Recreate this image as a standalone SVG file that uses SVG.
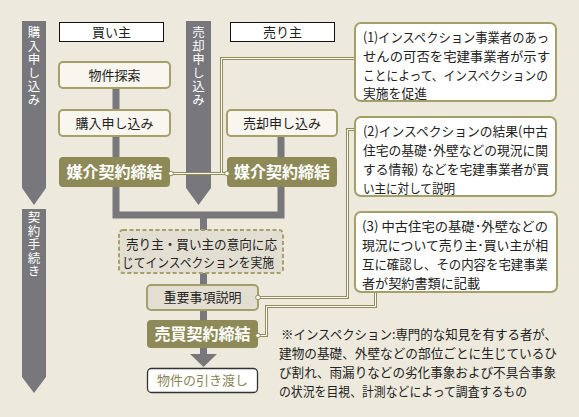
<svg xmlns="http://www.w3.org/2000/svg" width="579" height="417" viewBox="0 0 579 417">
<style>
.t{font-family:"Noto Sans CJK JP","Noto Sans CJK SC",sans-serif;font-size:13px;fill:#222}
.c{text-anchor:middle}
.w{fill:#fff;font-size:16px;font-weight:bold}
.v{fill:#fff;font-size:12.5px;writing-mode:vertical-rl;letter-spacing:1px}
.ol{fill:#8a8556}
.lbox{fill:#f8f6ee;stroke:#a5a06a;stroke-width:2}
.obox{fill:#8e8a58}
.gbox{fill:#e2dfd2;stroke:#a5a06a;stroke-width:2}
.note{fill:#fff;stroke:#a5a06a;stroke-width:2}
.hdr{fill:#fff;stroke:#111;stroke-width:1}
.bar{fill:none;stroke:#78777c;stroke-width:7;stroke-linejoin:miter}
.arr{fill:#78777c}
.co{fill:none;stroke:#928d5b;stroke-width:3}
.ci{fill:none;stroke:#fbfaf4;stroke-width:1}
.dot{fill:#fff;stroke:#8e8a58;stroke-width:1}
</style>
<rect width="579" height="417" fill="#edeadd"/>

<g id="stage-arrows">
<polygon class="arr" points="22,21 46,21 46,188 34,205 22,188"/>
<polygon class="arr" points="22,209 46,209 46,377 34,393 22,377"/>
<polygon class="arr" points="186,21 211,21 211,188 198.5,205 186,188"/>
<text class="t v" x="34" y="26">購入申し込み</text>
<text class="t v" x="198.5" y="26">売却申し込み</text>
<text class="t v" x="34" y="211">契約手続き</text>
</g>

<g id="flow-bars">
<path class="bar" d="M116 88V215H281V136"/>
<path class="bar" d="M203.5 215V354"/>
<polygon class="arr" points="190,354 217,354 203.5,367"/>
</g>

<g id="connectors">
<path class="co" d="M355 58.5H221.5V173.5M171 173.5H227"/>
<path class="ci" d="M355 58.5H221.5V173.5M171 173.5H227"/>
<path class="co" d="M355 129.5H347.5V297.5H258"/>
<path class="ci" d="M355 129.5H347.5V297.5H258"/>
<path class="co" d="M375.5 292V306.5H266.5V335.5H258"/>
<path class="ci" d="M375.5 292V306.5H266.5V335.5H258"/>
</g>

<g id="hdr-buyer"><rect class="hdr" x="59.5" y="22.5" width="104" height="19"/><text class="t c" x="111.5" y="36.5">買い主</text></g>
<g id="hdr-seller"><rect class="hdr" x="230.5" y="22.5" width="104" height="19"/><text class="t c" x="282.5" y="36.5">売り主</text></g>

<g id="search"><rect class="lbox" x="59" y="62" width="111" height="26" rx="4"/><text class="t c" x="114.5" y="79.5">物件探索</text></g>
<g id="buy-apply"><rect class="lbox" x="59" y="110" width="111" height="26" rx="4"/><text class="t c" x="114.5" y="127.5">購入申し込み</text></g>
<g id="sell-apply"><rect class="lbox" x="227" y="110" width="110" height="26" rx="4"/><text class="t c" x="282" y="127.5">売却申し込み</text></g>
<g id="buy-broker"><rect class="obox" x="59" y="157" width="111" height="30" rx="4"/><text class="t w c" x="114.5" y="178">媒介契約締結</text></g>
<g id="sell-broker"><rect class="obox" x="227" y="157" width="110" height="30" rx="4"/><text class="t w c" x="282" y="178">媒介契約締結</text></g>

<g id="inspection"><rect class="gbox" x="119" y="230" width="164" height="43" rx="4" stroke-dasharray="4 2.5"/>
<text class="t" x="126" y="249" textLength="151" lengthAdjust="spacingAndGlyphs">売り主・買い主の意向に応</text>
<text class="t" x="122" y="267" textLength="152" lengthAdjust="spacingAndGlyphs">じてインスペクションを実施</text></g>

<g id="explain"><rect class="gbox" x="147" y="285" width="111" height="25" rx="4"/><text class="t c" x="202.5" y="302">重要事項説明</text></g>
<g id="sale-contract"><rect class="obox" x="147" y="320" width="111" height="28" rx="4"/><text class="t w c" x="202.5" y="340">売買契約締結</text></g>
<g id="handover"><rect x="147.5" y="368.5" width="110" height="24" rx="4" fill="#fff" stroke="#333" stroke-width="1.3"/><text class="t c ol" x="202.5" y="385">物件の引き渡し</text></g>

<g id="dots">
<circle class="dot" cx="171" cy="173.5" r="2.3"/>
<circle class="dot" cx="227" cy="173.5" r="2.3"/>
<circle class="dot" cx="258" cy="297.5" r="2.3"/>
<circle class="dot" cx="258" cy="335.5" r="2.3"/>
</g>

<g id="note1"><rect class="note" x="355" y="23" width="201" height="78" rx="6"/>
<text class="t" x="363" y="41.5" textLength="186" lengthAdjust="spacingAndGlyphs">(1)インスペクション事業者のあっ</text>
<text class="t" x="363" y="60.5" textLength="187" lengthAdjust="spacingAndGlyphs">せんの可否を宅建事業者が示す</text>
<text class="t" x="363" y="79.5" textLength="185" lengthAdjust="spacingAndGlyphs">ことによって、インスペクションの</text>
<text class="t" x="363" y="98" textLength="64" lengthAdjust="spacingAndGlyphs">実施を促進</text></g>

<g id="note2"><rect class="note" x="355" y="117" width="201" height="79" rx="6"/>
<text class="t" x="363" y="136" textLength="185" lengthAdjust="spacingAndGlyphs">(2)インスペクションの結果(中古</text>
<text class="t" x="363" y="155" textLength="185" lengthAdjust="spacingAndGlyphs">住宅の基礎･外壁などの現況に関</text>
<text class="t" x="363" y="174" textLength="186" lengthAdjust="spacingAndGlyphs">する情報) などを宅建事業者が買</text>
<text class="t" x="363" y="193" textLength="92" lengthAdjust="spacingAndGlyphs">い主に対して説明</text></g>

<g id="note3"><rect class="note" x="355" y="212" width="202" height="80" rx="6"/>
<text class="t" x="362" y="231" textLength="186" lengthAdjust="spacingAndGlyphs">(3) 中古住宅の基礎･外壁などの</text>
<text class="t" x="362" y="250" textLength="186" lengthAdjust="spacingAndGlyphs">現況について売り主･買い主が相</text>
<text class="t" x="362" y="269" textLength="186" lengthAdjust="spacingAndGlyphs">互に確認し、その内容を宅建事業</text>
<text class="t" x="362" y="288" textLength="118" lengthAdjust="spacingAndGlyphs">者が契約書類に記載</text></g>

<g id="footnote">
<text class="t" x="281" y="339" textLength="276" lengthAdjust="spacingAndGlyphs">※インスペクション:専門的な知見を有する者が、</text>
<text class="t" x="279" y="358" textLength="278" lengthAdjust="spacingAndGlyphs">建物の基礎、外壁などの部位ごとに生じているひ</text>
<text class="t" x="279" y="377" textLength="277" lengthAdjust="spacingAndGlyphs">び割れ、雨漏りなどの劣化事象および不具合事象</text>
<text class="t" x="279" y="396" textLength="248" lengthAdjust="spacingAndGlyphs">の状況を目視、計測などによって調査するもの</text>
</g>
</svg>
